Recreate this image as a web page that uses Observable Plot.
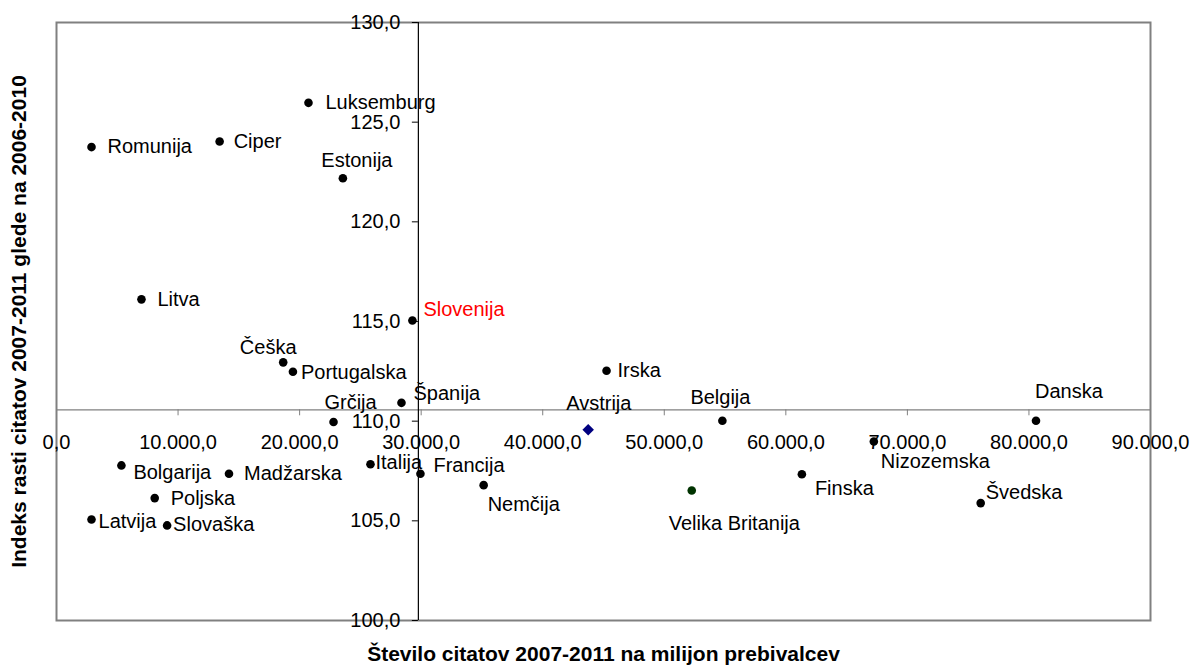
<!DOCTYPE html>
<html>
<head>
<meta charset="utf-8">
<script src="https://cdn.jsdelivr.net/npm/d3@7"></script>
<script src="https://cdn.jsdelivr.net/npm/@observablehq/plot@0.6"></script>
<style>
  html, body { margin: 0; padding: 0; background: #ffffff; }
  #chart svg { display: block; }
</style>
</head>
<body>
<div id="chart"></div>
<script>
// ---- data ----
const countries = ["Romunija","Ciper","Luksemburg","Estonija","Litva","Slovenija","Češka","Portugalska","Španija","Grčija","Italija","Francija","Nemčija","Bolgarija","Madžarska","Poljska","Latvija","Slovaška","Avstrija","Irska","Belgija","Velika Britanija","Finska","Nizozemska","Danska","Švedska"];
const citations = [2880,13420,20730,23560,6990,29280,18650,19450,28380,22790,25830,29940,35140,5340,14190,8080,2880,9100,43740,45250,54780,52260,61320,67240,80580,76030];
const growthIndex = [123.75,124.03,125.97,122.19,116.11,115.05,112.95,112.48,110.92,109.96,107.84,107.36,106.79,107.78,107.36,106.14,105.07,104.77,109.57,112.53,110.02,106.52,107.34,108.98,110.02,105.89];
const xTicks = [0,10000,20000,30000,40000,50000,60000,70000,80000,90000];
const yTicks = [100,105,110,115,120,125,130];
const xDomain = [0, 90000];
const yDomain = [100, 130];
const xCross = 29770;   // vertical axis crosses here
const yCross = 110.57;  // horizontal axis crosses here
const xTitle = "Število citatov 2007-2011 na milijon prebivalcev";
const yTitle = "Indeks rasti citatov 2007-2011 glede na 2006-2010";

// ---- styling / layout (kept apart from data) ----
const markerStyle = {
  "Avstrija": {symbol: "diamond2", fill: "#000080", r: 5.2},
  "Velika Britanija": {symbol: "circle", fill: "#003300", r: 4.3}
};
const labelColor = {"Slovenija": "#ff0000"};
// [textAnchor, dx, dy] in pixels relative to the point
const labelLayout = {
  "Romunija": ["start", 16, 0],
  "Ciper": ["start", 14, 0],
  "Luksemburg": ["start", 17, 0],
  "Estonija": ["middle", 14, -18],
  "Litva": ["start", 16, 0],
  "Slovenija": ["start", 11, -11],
  "Češka": ["middle", -15, -15],
  "Portugalska": ["start", 8, 1],
  "Španija": ["start", 12, -9],
  "Grčija": ["middle", 17, -19],
  "Italija": ["start", 5, -2],
  "Francija": ["start", 13, -8],
  "Nemčija": ["start", 4, 19],
  "Bolgarija": ["start", 12, 7],
  "Madžarska": ["start", 15, 0],
  "Poljska": ["start", 16, 0],
  "Latvija": ["start", 7, 2],
  "Slovaška": ["start", 6, -1],
  "Avstrija": ["start", -22, -26],
  "Irska": ["start", 11, 0],
  "Belgija": ["start", -32, -23],
  "Velika Britanija": ["start", -23, 33],
  "Finska": ["start", 13, 14],
  "Nizozemska": ["start", 7, 20],
  "Danska": ["start", -1, -29],
  "Švedska": ["start", 5, -10]
};

const rows = countries.map((c, i) => ({country: c, x: citations[i], y: growthIndex[i]}));

const W = 1192, H = 666;
const mL = 56, mR = 42, mT = 22, mB = 46;
const innerW = W - mL - mR, innerH = H - mT - mB;
const xCrossPx = mL + (xCross - xDomain[0]) / (xDomain[1] - xDomain[0]) * innerW;
const yCrossPx = mT + (yDomain[1] - yCross) / (yDomain[1] - yDomain[0]) * innerH;

const locale = d3.formatLocale({decimal: ",", thousands: ".", grouping: [3], currency: ["", ""]});
const fmt = locale.format(",.1f");

const FONT = "'Liberation Sans', Arial, Helvetica, sans-serif";

const normalRows = rows.filter(d => !markerStyle[d.country]);
const specialMarks = rows.filter(d => markerStyle[d.country]).map(d => {
  const s = markerStyle[d.country];
  return Plot.dot([d], {x: "x", y: "y", symbol: () => s.symbol, fill: s.fill, r: s.r, stroke: "none"});
});

const labelMarks = rows.map(d => {
  const [anchor, dx, dy] = labelLayout[d.country];
  return Plot.text([d], {
    x: "x", y: "y", text: "country",
    textAnchor: anchor, dx, dy,
    fill: labelColor[d.country] || "black",
    fontSize: 20
  });
});

const chart = Plot.plot({
  width: W, height: H,
  marginLeft: mL, marginRight: mR, marginTop: mT, marginBottom: mB,
  style: {fontFamily: FONT, fontSize: "20px", background: "white", color: "black", overflow: "visible"},
  x: {domain: xDomain, label: null},
  y: {domain: yDomain, label: null},
  symbol: {type: "identity"},
  marks: [
    Plot.frame({stroke: "#808080", strokeWidth: 2}),
    Plot.ruleY([yCross], {stroke: "#808080", strokeWidth: 1.2}),
    Plot.ruleX([xCross], {stroke: "black", strokeWidth: 1.2}),
    Plot.axisX(xTicks, {
      anchor: "bottom", dy: yCrossPx - (H - mB),
      tickSize: 6, tickPadding: 19, tickFormat: fmt,
      stroke: "#808080", fill: "black", fontSize: 20, label: null
    }),
    Plot.axisY(yTicks, {
      anchor: "left", dx: xCrossPx - mL,
      tickSize: 6, tickPadding: 12, tickFormat: fmt,
      stroke: "black", fill: "black", fontSize: 20, label: null
    }),
    Plot.dot(normalRows, {x: "x", y: "y", r: 4.3, fill: "black", stroke: "none"}),
    ...specialMarks,
    ...labelMarks,
    Plot.text([xTitle], {frameAnchor: "bottom", lineAnchor: "middle", textAnchor: "middle", dy: 34, fontWeight: "bold", fontSize: 21, fill: "black"}),
    Plot.text([yTitle], {frameAnchor: "left", lineAnchor: "middle", textAnchor: "middle", rotate: -90, dx: -37, fontWeight: "bold", fontSize: 21, fill: "black"})
  ]
});

document.getElementById("chart").appendChild(chart);
</script>
</body>
</html>
